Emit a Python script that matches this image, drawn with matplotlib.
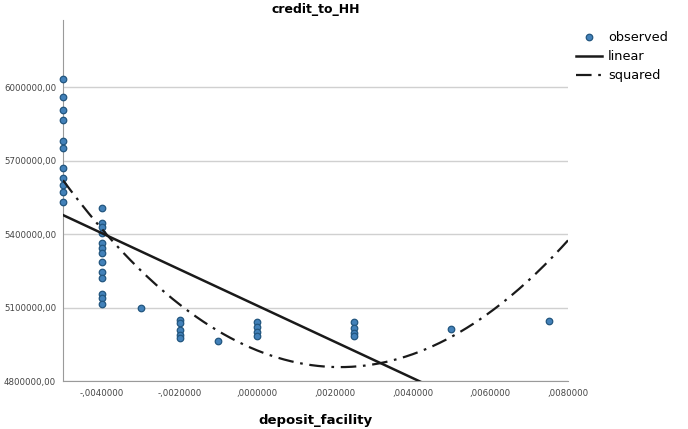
import numpy as np
import matplotlib.pyplot as plt
from matplotlib.ticker import FuncFormatter

# observed points (deposit_facility, credit_to_HH)
deposit_facility = [-0.005] * 11 + [-0.004] * 13 + [-0.003] + [-0.002] * 5 + [-0.001] \
    + [0.0] * 4 + [0.0025] * 4 + [0.005, 0.0075]
credit_to_HH = [
    6032000, 5959000, 5906000, 5865000, 5780000, 5751000, 5669000, 5629000, 5600000, 5571000, 5531000,
    5506000, 5445000, 5429000, 5404000, 5363000, 5343000, 5322000, 5286000, 5245000, 5220000,
    5155000, 5139000, 5114000,
    5100000,
    5049000, 5037000, 5008000, 4988000, 4976000,
    4963000,
    5041000, 5020000, 5000000, 4984000,
    5041000, 5016000, 4996000, 4984000,
    5012000, 5045000,
]
# linear fit as drawn in the chart (intercept, slope)
linear_intercept = 5108000
linear_slope = -74.0e6

y_ticks = [4800000, 5100000, 5400000, 5700000, 6000000]
x_ticks = [-0.004, -0.002, 0.0, 0.002, 0.004, 0.006, 0.008]

x = np.array(deposit_facility)
y = np.array(credit_to_HH)

# quadratic curve estimation from the observed points
quad = np.polyfit(x, y, 2)
xs = np.linspace(-0.005, 0.008, 300)

fig = plt.figure(figsize=(6.88, 4.29), dpi=100)
ax = fig.add_axes([63 / 688, 48 / 429, 505 / 688, 361 / 429])

ax.scatter(x, y, s=22, facecolor="#4281b9", edgecolor="#22567f", linewidth=0.9,
           zorder=3, label="observed", clip_on=False)
ax.plot(xs, linear_intercept + linear_slope * xs, color="#1a1a1a", lw=1.8,
        label="linear", zorder=4)
ax.plot(xs, np.polyval(quad, xs), color="#1a1a1a", lw=1.6, dashes=(7, 3, 1.2, 3),
        label="squared", zorder=4)

ax.set_xlim(-0.005, 0.008)
ax.set_ylim(4800000, 6275000)
ax.set_yticks(y_ticks)
ax.set_xticks(x_ticks)


def fmt_x(v, pos):
    s = f"{abs(v):.7f}".lstrip("0").replace(".", ",")
    return ("-" if v < -1e-12 else "") + s


ax.xaxis.set_major_formatter(FuncFormatter(fmt_x))
ax.yaxis.set_major_formatter(FuncFormatter(lambda v, p: f"{v:.2f}".replace(".", ",")))
ax.tick_params(axis="y", length=0, labelsize=6.2, labelcolor="#444444", pad=5)
ax.tick_params(axis="x", length=0, labelsize=6.2, labelcolor="#444444", pad=6)

ax.grid(axis="y", color="#d0d0d0", lw=1)
ax.set_axisbelow(True)
for side in ["top", "right"]:
    ax.spines[side].set_visible(False)
for side in ["left", "bottom"]:
    ax.spines[side].set_color("#9a9a9a")

ax.set_title("credit_to_HH", fontsize=9, fontweight="bold", pad=5)
ax.set_xlabel("deposit_facility", fontsize=9.5, fontweight="bold", labelpad=11)

ax.legend(loc="upper left", bbox_to_anchor=(1.005, 0.985), frameon=False, fontsize=9.3,
          handlelength=2.0, handletextpad=0.5, labelspacing=0.5, borderaxespad=0)

fig.savefig("out.png", dpi=100)
